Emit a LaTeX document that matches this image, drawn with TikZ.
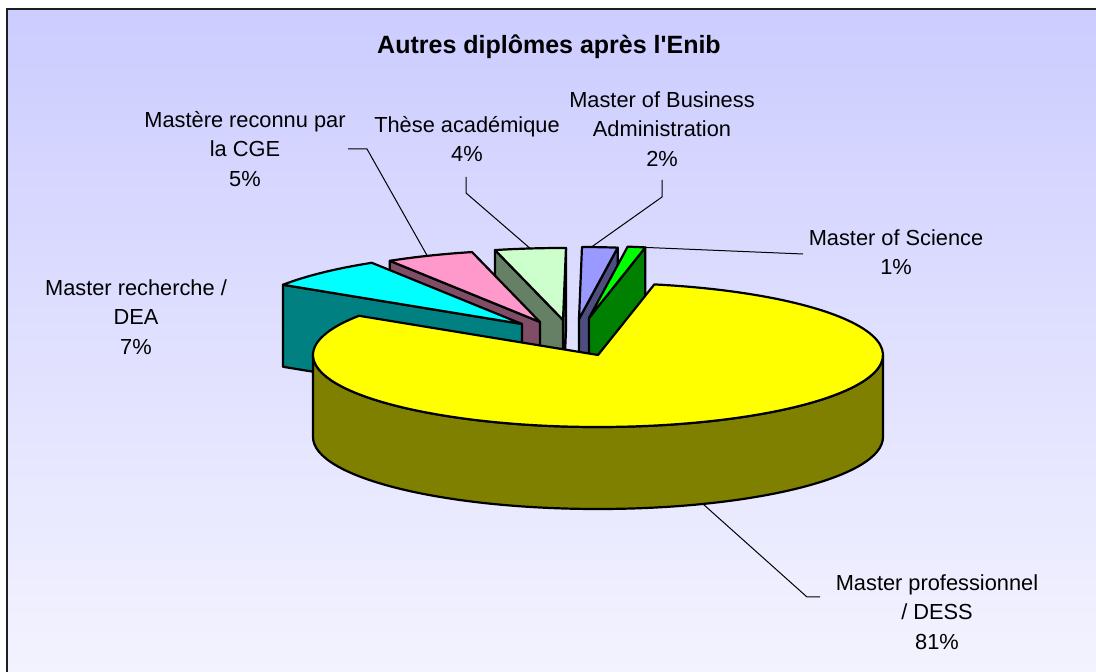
\documentclass[tikz,border=0pt]{standalone}
\usepackage{fontspec}
\setmainfont{Liberation Sans}[Ligatures=TeXOff]
\usetikzlibrary{calc}
\definecolor{bgtop}{RGB}{204,204,255}
\definecolor{bgbot}{RGB}{243,243,255}
\definecolor{framecol}{RGB}{30,30,30}
\definecolor{yellowtop}{RGB}{255,255,0}
\definecolor{yellowside}{RGB}{128,128,0}
\definecolor{cyantop}{RGB}{0,255,255}
\definecolor{cyanside}{RGB}{0,128,128}
\definecolor{pinktop}{RGB}{255,153,204}
\definecolor{pinkside}{RGB}{128,77,102}
\definecolor{thesetop}{RGB}{204,255,204}
\definecolor{theseside}{RGB}{102,128,102}
\definecolor{bluetop}{RGB}{153,153,255}
\definecolor{blueside}{RGB}{77,77,128}
\definecolor{greentop}{RGB}{0,255,0}
\definecolor{greenside}{RGB}{0,128,0}
\begin{document}
\begin{tikzpicture}[x=1pt,y=1pt,
  face/.style={draw=black, line width=2.2pt, line join=round},
  lbl/.style={inner sep=0pt, align=center, font=\fontsize{21.8}{29.5}\selectfont},
  ttl/.style={inner sep=0pt, font=\fontsize{25}{28}\selectfont\bfseries},
  leader/.style={draw=black, line width=1pt}]
\useasboundingbox (0,0) rectangle (1096,672);
\clip (0,0) rectangle (1096,672);
\fill[white] (0,0) rectangle (1096,672);
\shade[top color=bgtop, bottom color=bgbot] (7,0) rectangle (1096,663);
\draw[line width=2.5pt, framecol] (7,-20) -- (7,663) -- (1120,663);

% slice vertices
\coordinate (Vg) at (589,354);
\coordinate (Vb) at (579,353);
\coordinate (Vt) at (563,352);
\coordinate (Vp) at (540,350);
\coordinate (Vc) at (522,348);
\coordinate (Vy) at (598,317);

% blue : Master of Business Administration
\draw[face, fill=blueside] (Vb) -- ($(Vb)+(82.2:285 and 72)$) -- ++(0,-82) -- ($(Vb)+(0,-82)$) -- cycle;
\draw[face, fill=bluetop] (Vb) -- ($(Vb)+(82.2:285 and 72)$) arc[start angle=82.2,end angle=89.4,x radius=285,y radius=72] -- cycle;

% these academique
\draw[face, fill=theseside] (Vt) -- ($(Vt)+(89.4:285 and 72)$) -- ++(0,-82) -- ($(Vt)+(0,-82)$) -- cycle;
\draw[face, fill=theseside] (Vt) -- ($(Vt)+(103.8:285 and 72)$) -- ++(0,-82) -- ($(Vt)+(0,-82)$) -- cycle;
\draw[face, fill=thesetop] (Vt) -- ($(Vt)+(89.4:285 and 72)$) arc[start angle=89.4,end angle=103.8,x radius=285,y radius=72] -- cycle;

% green : Master of Science
\draw[face, fill=greenside] (Vg) -- ($(Vg)+(78.6:285 and 72)$) -- ++(0,-82) -- ($(Vg)+(0,-82)$) -- cycle;
\draw[face, fill=greentop] (Vg) -- ($(Vg)+(78.6:285 and 72)$) arc[start angle=78.6,end angle=82.2,x radius=285,y radius=72] -- cycle;

% pink : Mastere CGE
\draw[face, fill=pinkside] (Vp) -- ($(Vp)+(121.8:285 and 72)$) -- ++(0,-82) -- ($(Vp)+(0,-82)$) -- cycle;
\draw[face, fill=pinktop] (Vp) -- ($(Vp)+(103.8:285 and 72)$) arc[start angle=103.8,end angle=121.8,x radius=285,y radius=72] -- cycle;

% cyan : Master recherche
\draw[face, fill=cyanside] (Vc) -- ($(Vc)+(147:285 and 72)$) -- ++(0,-82) -- ($(Vc)+(0,-82)$) -- cycle;
\draw[face, fill=cyantop] (Vc) -- ($(Vc)+(121.8:285 and 72)$) arc[start angle=121.8,end angle=147,x radius=285,y radius=72] -- cycle;

% yellow : Master professionnel
\draw[face, fill=yellowside] ($(Vy)+(-285,0)$) arc[start angle=180,end angle=360,x radius=285,y radius=72] -- ++(0,-82) arc[start angle=360,end angle=180,x radius=285,y radius=72] -- cycle;
\draw[face, fill=yellowtop] (Vy) -- ($(Vy)+(147:285 and 72)$) arc[start angle=147,end angle=438.6,x radius=285,y radius=72] -- cycle;

% labels
\node[ttl] (title) at (549,625) {Autres diplômes après l'Enib};
\node[lbl] (lMBA) at (662,543) {Master of Business\\Administration\\2\%};
\node[lbl] (lMoS) at (896,420) {Master of Science\\1\%};
\node[lbl] (lThese) at (467,533) {Thèse académique\\4\%};
\node[lbl] (lCGE) at (245,523) {Mastère reconnu par\\la CGE\\5\%};
\node[lbl] (lRech) at (136,355) {Master recherche /\\DEA\\7\%};
\node[lbl] (lDESS) at (937,60) {Master professionnel\\/ DESS\\81\%};

% leader lines
\coordinate (mbaS) at (662,492);
\coordinate (mbaB) at (662,475);
\coordinate (mbaE) at ($(Vb)+(87.5:285 and 72)$);
\draw[leader] (mbaS) -- (mbaB) -- (mbaE);

\coordinate (theS) at (466,495);
\coordinate (theB) at (466,479);
\coordinate (theE) at ($(Vt)+(96.6:285 and 72)$);
\draw[leader] (theS) -- (theB) -- (theE);

\coordinate (cgeS) at (348,523);
\coordinate (cgeB) at (367,523);
\coordinate (cgeE) at ($(Vp)+(113.3:285 and 72)$);
\draw[leader] (cgeS) -- (cgeB) -- (cgeE);

\coordinate (mosS) at (803,418);
\coordinate (mosE) at ($(Vg)+(78.6:285 and 72)$);
\draw[leader] (mosS) -- (mosE);

\coordinate (dessE) at ($(Vy)+(-68.4:285 and 72)+(0,-82)$);
\coordinate (dessB) at (807,75);
\coordinate (dessS) at (820,75);
\draw[leader] (dessE) -- (dessB) -- (dessS);
\end{tikzpicture}
\end{document}
